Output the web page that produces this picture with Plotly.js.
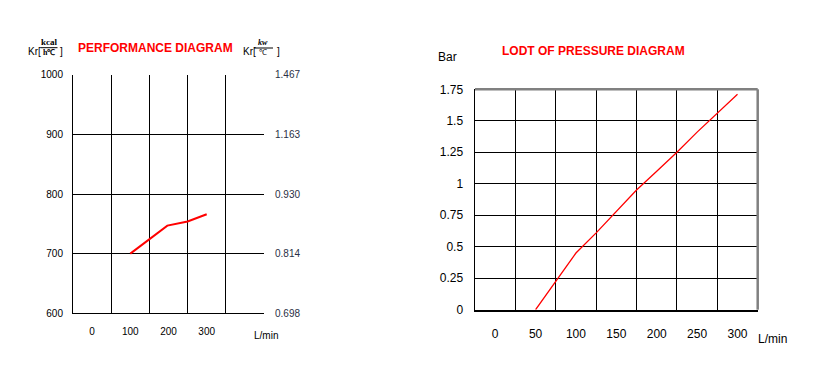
<!DOCTYPE html>
<html><head><meta charset="utf-8">
<script src="https://cdn.plot.ly/plotly-3.0.1.min.js"></script>
<style>html,body{margin:0;padding:0;background:#fff;}#chart{width:827px;height:379px;}</style>
</head><body><div id="chart"></div>
<script>
// Performance diagram data
const perfFlow = [100, 150, 197, 250, 300];
const perfKcal = [700, 725, 747, 754, 766];
const perfXTicks = [0, 100, 200, 300];
const perfYTicks = [600, 700, 800, 900, 1000];
const perfKwLabels = ['0.698', '0.814', '0.930', '1.163', '1.467'];
// Pressure diagram data
const presFlow = [50, 75, 100, 125, 150, 175, 200, 225, 250, 275, 300];
const presBar = [0, 0.225, 0.45, 0.61, 0.78, 0.95, 1.1, 1.25, 1.41, 1.56, 1.71];
const presXTicks = [0, 50, 100, 150, 200, 250, 300];
const presYTicks = [0, 0.25, 0.5, 0.75, 1, 1.25, 1.5, 1.75];
const presYLabels = ['0', '0.25', '0.5', '0.75', '1', '1.25', '1.5', '1.75'];

const W = 827, H = 379;
const px = x => x / W, py = y => 1 - y / H;
const FONT = 'Liberation Sans, Arial, sans-serif';

const traces = [
  {x: perfFlow, y: perfKcal, xaxis: 'x', yaxis: 'y', mode: 'lines',
   line: {color: '#ff0000', width: 2}, hoverinfo: 'skip'},
  {x: perfFlow, y: perfKcal, xaxis: 'x', yaxis: 'y3', mode: 'lines',
   line: {color: 'rgba(0,0,0,0)', width: 0}, hoverinfo: 'skip'},
  {x: presFlow, y: presBar, xaxis: 'x2', yaxis: 'y2', mode: 'lines',
   line: {color: '#ff0000', width: 1.3}, hoverinfo: 'skip'}
];

const layout = {
  width: W, height: H, margin: {l: 0, r: 0, t: 0, b: 0},
  paper_bgcolor: '#fff', plot_bgcolor: '#fff', showlegend: false,
  font: {family: FONT, color: '#000'},
  xaxis: {domain: [px(73), px(264)], range: [-50, 450], anchor: 'y',
    tickmode: 'array', tickvals: perfXTicks, ticktext: perfXTicks.map(String),
    showgrid: false, zeroline: false, showline: true, linecolor: '#000', linewidth: 1,
    ticks: 'outside', ticklen: 9, tickcolor: 'rgba(0,0,0,0)', tickfont: {size: 10, family: FONT},
    minor: {tickmode: 'array', tickvals: [50, 150, 250, 350], showgrid: true, gridcolor: '#000', gridwidth: 1, ticks: ''}},
  yaxis: {domain: [py(313.3), py(74.7)], range: [600, 1000], anchor: 'x',
    tickmode: 'array', tickvals: perfYTicks, ticktext: perfYTicks.map(String),
    showgrid: true, gridcolor: '#000', gridwidth: 1, zeroline: false,
    showline: true, linecolor: '#000', linewidth: 1,
    ticks: 'outside', ticklen: 7, tickcolor: 'rgba(0,0,0,0)', tickfont: {size: 10, family: FONT}},
  yaxis3: {overlaying: 'y', side: 'right', anchor: 'x', range: [600, 1000],
    tickmode: 'array', tickvals: perfYTicks, ticktext: perfKwLabels,
    showgrid: false, zeroline: false, showline: false,
    ticks: 'outside', ticklen: 8, tickcolor: 'rgba(0,0,0,0)', tickfont: {size: 10, family: FONT, color: '#2a2f45'}},
  xaxis2: {domain: [px(475), px(757.7)], range: [-25, 325], anchor: 'y2',
    tickmode: 'array', tickvals: presXTicks, ticktext: presXTicks.map(String),
    showgrid: false, zeroline: false, showline: true, linecolor: '#000', linewidth: 2,
    ticks: 'outside', ticklen: 12, tickcolor: 'rgba(0,0,0,0)', tickfont: {size: 12, family: FONT},
    minor: {tickmode: 'array', tickvals: [25, 75, 125, 175, 225, 275], showgrid: true, gridcolor: '#000', gridwidth: 1, ticks: ''}},
  yaxis2: {domain: [py(309.7), py(89.3)], range: [0, 1.75], anchor: 'x2',
    tickmode: 'array', tickvals: presYTicks, ticktext: presYLabels,
    showgrid: true, gridcolor: '#000', gridwidth: 1, zeroline: false,
    showline: true, linecolor: '#000', linewidth: 1.5,
    ticks: 'outside', ticklen: 8, tickcolor: 'rgba(0,0,0,0)', tickfont: {size: 12, family: FONT}},
  shapes: [
    {type: 'line', xref: 'x2 domain', yref: 'y2 domain', x0: 0, x1: 1, y0: 1, y1: 1, line: {color: '#808080', width: 2.5}},
    {type: 'line', xref: 'x2 domain', yref: 'y2 domain', x0: 1, x1: 1, y0: 0, y1: 1, line: {color: '#808080', width: 2.5}},
    {type: 'line', xref: 'paper', yref: 'paper', x0: px(40.5), x1: px(57.5), y0: py(47.7), y1: py(47.7), line: {color: '#000', width: 1}},
    {type: 'line', xref: 'paper', yref: 'paper', x0: px(254), x1: px(273), y0: py(48), y1: py(48), line: {color: '#000', width: 1}}
  ],
  annotations: [
    {text: '<b>PERFORMANCE DIAGRAM</b>', x: px(155.5), y: py(48.3), xref: 'paper', yref: 'paper', showarrow: false, xanchor: 'center', yanchor: 'middle', font: {size: 12, color: '#ff0000', family: FONT}},
    {text: '<b>LODT OF PRESSURE DIAGRAM</b>', x: px(593), y: py(51), xref: 'paper', yref: 'paper', showarrow: false, xanchor: 'center', yanchor: 'middle', font: {size: 12, color: '#ff0000', family: FONT}},
    {text: 'Bar', x: px(447.5), y: py(57), xref: 'paper', yref: 'paper', showarrow: false, xanchor: 'center', yanchor: 'middle', font: {size: 12, family: FONT}},
    {text: 'Kr[', x: px(26), y: py(51), xref: 'paper', yref: 'paper', showarrow: false, xanchor: 'left', yanchor: 'middle', font: {size: 10, family: FONT}},
    {text: '<b>kcal</b>', x: px(49), y: py(42.5), xref: 'paper', yref: 'paper', showarrow: false, xanchor: 'center', yanchor: 'middle', font: {size: 9, family: 'Liberation Serif, serif'}},
    {text: '<b>h℃</b>', x: px(49), y: py(52.5), xref: 'paper', yref: 'paper', showarrow: false, xanchor: 'center', yanchor: 'middle', font: {size: 8, family: 'Liberation Serif, serif'}},
    {text: ']', x: px(61.5), y: py(51), xref: 'paper', yref: 'paper', showarrow: false, xanchor: 'center', yanchor: 'middle', font: {size: 10, family: FONT}},
    {text: 'Kr[', x: px(241), y: py(51.5), xref: 'paper', yref: 'paper', showarrow: false, xanchor: 'left', yanchor: 'middle', font: {size: 10, family: FONT}},
    {text: '<b><i>kw</i></b>', x: px(263), y: py(42.5), xref: 'paper', yref: 'paper', showarrow: false, xanchor: 'center', yanchor: 'middle', font: {size: 8, family: 'Liberation Serif, serif'}},
    {text: '℃', x: px(263), y: py(52.5), xref: 'paper', yref: 'paper', showarrow: false, xanchor: 'center', yanchor: 'middle', font: {size: 8, family: 'Liberation Serif, serif'}},
    {text: ']', x: px(278), y: py(51.5), xref: 'paper', yref: 'paper', showarrow: false, xanchor: 'center', yanchor: 'middle', font: {size: 10, family: FONT}},
    {text: 'L/min', x: px(265.5), y: py(335), xref: 'paper', yref: 'paper', showarrow: false, xanchor: 'center', yanchor: 'middle', font: {size: 10, family: FONT}},
    {text: 'L/min', x: px(772), y: py(338.5), xref: 'paper', yref: 'paper', showarrow: false, xanchor: 'center', yanchor: 'middle', font: {size: 12, family: FONT}}
  ]
};

Plotly.newPlot('chart', traces, layout, {staticPlot: true, displayModeBar: false});
</script>
</body></html>
